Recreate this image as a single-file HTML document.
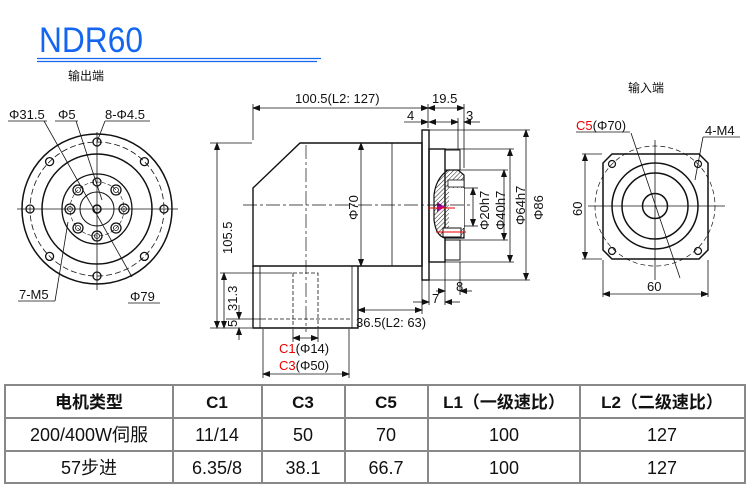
<!DOCTYPE html>
<html><head><meta charset="utf-8"><style>
body{margin:0;background:#fff;width:750px;height:490px;overflow:hidden}
svg{display:block}
text{font-family:"Liberation Sans","Noto Sans CJK SC",sans-serif;fill:#111}
</style></head><body>
<svg width="750" height="490" viewBox="0 0 750 490" xmlns="http://www.w3.org/2000/svg">
<defs>
<pattern id="h" width="3" height="3" patternUnits="userSpaceOnUse" patternTransform="rotate(45)"><line x1="0" y1="0" x2="0" y2="3" stroke="#222" stroke-width="1"/></pattern>
<marker id="a" markerWidth="8" markerHeight="6" refX="7" refY="3" orient="auto-start-reverse" markerUnits="userSpaceOnUse"><path d="M0,0 L8,3 L0,6z" fill="#111"/></marker>
</defs>
<!-- Title -->
<text x="39" y="52" font-size="35" textLength="104" lengthAdjust="spacingAndGlyphs" style="fill:#1466f0">NDR60</text>
<line x1="37" y1="58.5" x2="321" y2="58.5" stroke="#1466f0" stroke-width="1.3"/>
<line x1="37" y1="61.5" x2="317" y2="61.5" stroke="#1466f0" stroke-width="1.3"/>
<text x="68" y="80" font-size="12">输出端</text>
<text x="628" y="92" font-size="12">输入端</text>

<!-- LEFT VIEW -->
<g stroke="#111" fill="none">
<circle cx="97" cy="209" r="75" stroke-width="1.5"/>
<circle cx="97" cy="209" r="67" stroke-width="0.8" stroke-dasharray="6,3"/>
<circle cx="97" cy="209" r="55" stroke-width="1.5"/>
<circle cx="97" cy="209" r="35" stroke-width="1.3"/>
<circle cx="97" cy="209" r="17" stroke-width="1"/>
<circle cx="97" cy="209" r="4" stroke-width="1.5"/>
<circle cx="97" cy="209" r="27" stroke-width="0.6" stroke-dasharray="4,2"/>
<g stroke-width="1.3">
<circle cx="97" cy="142" r="4"/><circle cx="97" cy="276" r="4"/><circle cx="30" cy="209" r="4"/><circle cx="164" cy="209" r="4"/>
<circle cx="144.4" cy="161.6" r="4"/><circle cx="49.6" cy="161.6" r="4"/><circle cx="144.4" cy="256.4" r="4"/><circle cx="49.6" cy="256.4" r="4"/>
<circle cx="97" cy="182" r="4"/><circle cx="97" cy="236" r="5"/><circle cx="70" cy="209" r="5"/><circle cx="124" cy="209" r="5"/>
<circle cx="78" cy="190" r="5"/><circle cx="116" cy="190" r="5"/><circle cx="78" cy="228" r="5"/><circle cx="116" cy="228" r="5"/>
</g>
<g stroke-width="0.8">
<circle cx="97" cy="236" r="2.5"/><circle cx="70" cy="209" r="2.5"/><circle cx="124" cy="209" r="2.5"/>
<circle cx="78" cy="190" r="2.5"/><circle cx="116" cy="190" r="2.5"/><circle cx="78" cy="228" r="2.5"/><circle cx="116" cy="228" r="2.5"/>
</g>
<line x1="17" y1="209" x2="178" y2="209" stroke-width="0.8"/>
<line x1="97" y1="132" x2="97" y2="290" stroke-width="0.8"/>
<line x1="8" y1="121" x2="47" y2="121" stroke-width="0.8"/>
<line x1="44" y1="121" x2="132" y2="277" stroke-width="0.8"/>
<line x1="55" y1="121" x2="78" y2="121" stroke-width="0.8"/>
<line x1="76" y1="121" x2="102" y2="200" stroke-width="0.8"/>
<line x1="105" y1="121" x2="150" y2="121" stroke-width="0.8"/>
<line x1="105" y1="121" x2="97" y2="142" stroke-width="0.8"/>
<line x1="18" y1="301" x2="55" y2="301" stroke-width="0.8"/>
<line x1="55" y1="301" x2="68" y2="222" stroke-width="0.8"/>
<line x1="128" y1="303" x2="160" y2="303" stroke-width="0.8"/>
</g>
<g font-size="13">
<text x="9" y="119">Φ31.5</text><text x="58" y="119">Φ5</text><text x="105" y="119">8-Φ4.5</text>
<text x="19" y="299">7-M5</text><text x="130" y="301">Φ79</text>
</g>

<!-- MAIN VIEW -->
<g stroke="#111" fill="none" stroke-width="1.4">
<path d="M253,188 L300,143 L422,143 L422,266 L253,266 Z"/>
<line x1="392" y1="143" x2="392" y2="266" stroke-width="0.8"/>
<rect x="422" y="130" width="7" height="150"/>
<rect x="429" y="149" width="16" height="113"/>
<rect x="445" y="150" width="15" height="20" stroke-width="1"/>
<rect x="445" y="240" width="15" height="20" stroke-width="1"/>
<path d="M448,170 L458,170 L464,175 L464,238 L445,238 Q436,236 434,220 L434,195 Q436,178 448,170 Z" fill="url(#h)" stroke-width="1.2"/>
<rect x="448" y="180" width="16" height="7" fill="#fff" stroke-width="0.8"/>
<rect x="449" y="188" width="15" height="40" fill="#fff" stroke="none"/>
<rect x="443" y="228" width="18" height="9" fill="#fff" stroke-width="1"/>
<path d="M437,202 L445,207 L437,212 Z" fill="#a0a" stroke="none"/>
<line x1="428" y1="208" x2="455" y2="208" stroke="#e00" stroke-width="1"/>
<line x1="436" y1="232" x2="466" y2="232" stroke="#e00" stroke-width="1"/>
<path d="M253,266 L253,328 L358,328 L358,266" />
<line x1="260" y1="266" x2="260" y2="328" stroke-width="0.8"/>
<line x1="352" y1="266" x2="352" y2="328" stroke-width="0.8"/>
<g stroke-width="0.8" stroke-dasharray="4,2">
<rect x="293" y="273" width="25" height="55"/>
<line x1="262" y1="319" x2="350" y2="319"/>
</g>
<g stroke-width="0.7" stroke-dasharray="14,3,3,3">
<line x1="243" y1="205" x2="470" y2="205"/>
<line x1="306" y1="145" x2="306" y2="332"/>
</g>
</g>
<g stroke="#111" stroke-width="0.8" fill="none">
<line x1="253" y1="104" x2="253" y2="140"/>
<line x1="428" y1="104" x2="428" y2="128"/>
<line x1="464" y1="104" x2="464" y2="168"/>
<line x1="253" y1="108" x2="428" y2="108" marker-start="url(#a)" marker-end="url(#a)"/>
<line x1="428" y1="108" x2="464" y2="108" marker-start="url(#a)" marker-end="url(#a)"/>
<line x1="404" y1="122" x2="428" y2="122" marker-end="url(#a)"/>
<line x1="429" y1="122" x2="458" y2="122" marker-start="url(#a)" marker-end="url(#a)"/>
<line x1="464" y1="122" x2="480" y2="122" marker-start="url(#a)"/>
<line x1="458" y1="118" x2="458" y2="150"/>
<line x1="210" y1="143" x2="252" y2="143"/>
<line x1="210" y1="328" x2="252" y2="328"/>
<line x1="217" y1="143" x2="217" y2="328" marker-start="url(#a)" marker-end="url(#a)"/>
<line x1="220" y1="273" x2="292" y2="273"/>
<line x1="224" y1="273" x2="224" y2="328" marker-start="url(#a)" marker-end="url(#a)"/>
<line x1="226" y1="319" x2="262" y2="319"/>
<line x1="239" y1="305" x2="239" y2="319" marker-end="url(#a)"/>
<line x1="239" y1="328" x2="239" y2="340" marker-start="url(#a)"/>
<line x1="361" y1="143" x2="361" y2="266" marker-start="url(#a)" marker-end="url(#a)"/>
<line x1="422" y1="280" x2="422" y2="314"/>
<line x1="358" y1="310" x2="422" y2="310" marker-start="url(#a)" marker-end="url(#a)"/>
<line x1="429" y1="280" x2="429" y2="305"/>
<line x1="445" y1="262" x2="445" y2="305"/>
<line x1="460" y1="262" x2="460" y2="295"/>
<line x1="413" y1="302" x2="429" y2="302" marker-end="url(#a)"/>
<line x1="445" y1="302" x2="460" y2="302" marker-start="url(#a)"/>
<line x1="436" y1="291" x2="445" y2="291" marker-end="url(#a)"/>
<line x1="460" y1="291" x2="472" y2="291" marker-start="url(#a)"/>
<line x1="464" y1="188" x2="478" y2="188"/><line x1="464" y1="226" x2="478" y2="226"/>
<line x1="473" y1="188" x2="473" y2="226" marker-start="url(#a)" marker-end="url(#a)"/>
<line x1="460" y1="170" x2="508" y2="170"/><line x1="460" y1="240" x2="508" y2="240"/>
<line x1="504" y1="170" x2="504" y2="240" marker-start="url(#a)" marker-end="url(#a)"/>
<line x1="445" y1="149" x2="514" y2="149"/><line x1="445" y1="262" x2="514" y2="262"/>
<line x1="510" y1="149" x2="510" y2="262" marker-start="url(#a)" marker-end="url(#a)"/>
<line x1="429" y1="130" x2="530" y2="130"/><line x1="429" y1="280" x2="530" y2="280"/>
<line x1="526" y1="130" x2="526" y2="280" marker-start="url(#a)" marker-end="url(#a)"/>
<line x1="293" y1="329" x2="293" y2="342"/><line x1="318" y1="329" x2="318" y2="342"/>
<line x1="293" y1="338" x2="318" y2="338" marker-start="url(#a)" marker-end="url(#a)"/>
<line x1="263" y1="329" x2="263" y2="378"/><line x1="349" y1="329" x2="349" y2="378"/>
<line x1="263" y1="374" x2="349" y2="374" marker-start="url(#a)" marker-end="url(#a)"/>
</g>
<g font-size="13">
<text x="295" y="103">100.5(L2: 127)</text>
<text x="432" y="103">19.5</text>
<text x="407" y="120">4</text><text x="466" y="120">3</text>
<text x="356" y="327">36.5(L2: 63)</text>
<text x="456" y="291">8</text><text x="432" y="303">7</text>
<text x="279" y="353"><tspan style="fill:#e00">C1</tspan>(Φ14)</text>
<text x="279" y="370"><tspan style="fill:#e00">C3</tspan>(Φ50)</text>
<text transform="translate(232,254) rotate(-90)">105.5</text>
<text transform="translate(237,311) rotate(-90)">31.3</text>
<text transform="translate(237,327) rotate(-90)">5</text>
<text transform="translate(358,220) rotate(-90)">Φ70</text>
<text transform="translate(489,230) rotate(-90)">Φ20h7</text>
<text transform="translate(505,230) rotate(-90)">Φ40h7</text>
<text transform="translate(525,225) rotate(-90)">Φ64h7</text>
<text transform="translate(543,220) rotate(-90)">Φ86</text>
</g>

<!-- RIGHT VIEW -->
<g stroke="#111" fill="none">
<path d="M612,154 L699,154 L708,163 L708,250 L699,259 L612,259 L603,250 L603,163 Z" stroke-width="1.5"/>
<circle cx="655" cy="206" r="60" stroke-width="0.7" stroke-dasharray="5,3"/>
<circle cx="655" cy="206" r="43" stroke-width="1.5"/>
<circle cx="655" cy="206" r="33" stroke-width="1.5"/>
<circle cx="655" cy="206" r="12.5" stroke-width="1.5"/>
<g stroke-width="1.2"><circle cx="612" cy="164" r="3.5"/><circle cx="698" cy="164" r="3.5"/><circle cx="612" cy="251" r="3.5"/><circle cx="698" cy="251" r="3.5"/></g>
<line x1="588" y1="206" x2="725" y2="206" stroke-width="0.8"/>
<line x1="655" y1="140" x2="655" y2="280" stroke-width="0.8"/>
<line x1="576" y1="132" x2="630" y2="132" stroke-width="0.8"/>
<line x1="631" y1="133" x2="680" y2="278" stroke-width="0.8"/>
<line x1="703" y1="137" x2="740" y2="137" stroke-width="0.8"/>
<line x1="703" y1="137" x2="695" y2="180" stroke-width="0.8"/>
<line x1="582" y1="154" x2="602" y2="154" stroke-width="0.8"/>
<line x1="582" y1="259" x2="602" y2="259" stroke-width="0.8"/>
<line x1="585" y1="154" x2="585" y2="259" stroke-width="0.8" marker-start="url(#a)" marker-end="url(#a)"/>
<line x1="603" y1="260" x2="603" y2="297" stroke-width="0.8"/>
<line x1="708" y1="260" x2="708" y2="297" stroke-width="0.8"/>
<line x1="603" y1="294" x2="708" y2="294" stroke-width="0.8" marker-start="url(#a)" marker-end="url(#a)"/>
</g>
<g font-size="13">
<text x="576" y="130"><tspan style="fill:#e00">C5</tspan>(Φ70)</text>
<text x="705" y="135">4-M4</text>
<text x="647" y="291">60</text>
<text transform="translate(582,216) rotate(-90)">60</text>
</g>

<!-- TABLE -->
<g stroke="#888" stroke-width="2" fill="none">
<rect x="5" y="385" width="740" height="98"/>
<line x1="5" y1="418" x2="745" y2="418"/><line x1="5" y1="451" x2="745" y2="451"/>
<line x1="173" y1="385" x2="173" y2="483"/><line x1="262" y1="385" x2="262" y2="483"/>
<line x1="345" y1="385" x2="345" y2="483"/><line x1="428" y1="385" x2="428" y2="483"/>
<line x1="580" y1="385" x2="580" y2="483"/>
</g>
<g font-size="17" text-anchor="middle">
<text x="89" y="408" font-weight="bold">电机类型</text>
<text x="217" y="408" font-weight="bold">C1</text>
<text x="303" y="408" font-weight="bold">C3</text>
<text x="386" y="408" font-weight="bold">C5</text>
<text x="504" y="408" font-weight="bold">L1（一级速比）</text>
<text x="662" y="408" font-weight="bold">L2（二级速比）</text>
</g>
<g font-size="18" text-anchor="middle">
<text x="89" y="441">200/400W伺服</text>
<text x="217" y="441">11/14</text><text x="303" y="441">50</text><text x="386" y="441">70</text>
<text x="504" y="441">100</text><text x="662" y="441">127</text>
<text x="89" y="474">57步进</text>
<text x="217" y="474">6.35/8</text><text x="303" y="474">38.1</text><text x="386" y="474">66.7</text>
<text x="504" y="474">100</text><text x="662" y="474">127</text>
</g>
</svg>
</body></html>
